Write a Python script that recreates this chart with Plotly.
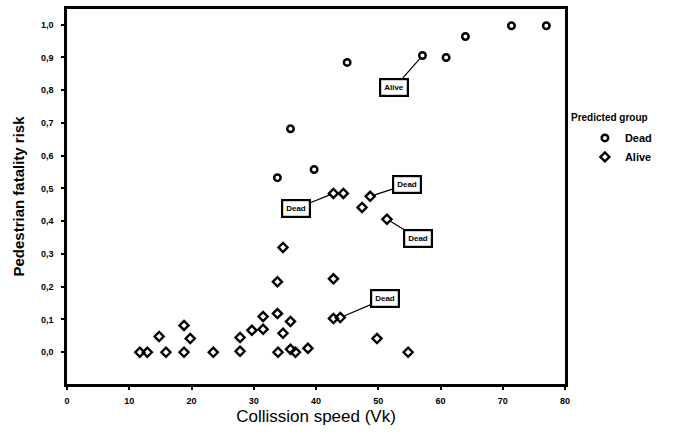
import plotly.graph_objects as go

# Predicted group: Dead
dead_speed = [33.8, 39.7, 35.9, 45.0, 57.1, 60.9, 64.0, 71.4, 77.0]
dead_risk = [0.533, 0.558, 0.682, 0.885, 0.906, 0.900, 0.964, 0.997, 0.997]

# Predicted group: Alive
alive_speed = [11.7, 12.9, 15.9, 14.8, 18.8, 18.8, 19.8, 23.5, 27.8, 27.8,
               29.7, 31.5, 31.5, 33.8, 34.7, 33.8, 35.9, 34.7, 33.9, 35.9,
               36.7, 38.7, 42.8, 42.8, 43.9, 49.8, 54.8, 51.4, 47.4, 48.7,
               42.8, 44.4]
alive_risk = [0.0, 0.0, 0.0, 0.048, 0.082, 0.0, 0.042, 0.0, 0.003, 0.045,
              0.067, 0.109, 0.070, 0.215, 0.320, 0.118, 0.094, 0.058, 0.0, 0.009,
              0.0, 0.012, 0.224, 0.103, 0.106, 0.042, 0.0, 0.406, 0.442, 0.476,
              0.485, 0.485]

x_ticks = [0, 10, 20, 30, 40, 50, 60, 70, 80]
y_ticks = [0.0, 0.1, 0.2, 0.3, 0.4, 0.5, 0.6, 0.7, 0.8, 0.9, 1.0]
y_tick_text = ["0,0", "0,1", "0,2", "0,3", "0,4", "0,5", "0,6", "0,7", "0,8", "0,9", "1,0"]

# Labelled points: (speed, risk, label, ax, ay)
labels = [
    (57.1, 0.906, "Alive", -28, 32),
    (42.8, 0.485, "Dead", -37, 15),
    (48.7, 0.476, "Dead", 37, -12),
    (51.4, 0.406, "Dead", 31, 19),
    (43.9, 0.106, "Dead", 45, -19),
]

FONT = "Liberation Sans, Arial, sans-serif"

fig = go.Figure()
fig.add_trace(go.Scatter(
    x=dead_speed, y=dead_risk, mode="markers", name="<b>Dead</b>",
    marker=dict(symbol="circle-open", size=6.5, color="black", line=dict(width=2.5, color="black")),
))
fig.add_trace(go.Scatter(
    x=alive_speed, y=alive_risk, mode="markers", name="<b>Alive</b>",
    marker=dict(symbol="diamond-open", size=7, color="black", line=dict(width=2.4, color="black")),
))

for sx, sy, txt, ax, ay in labels:
    fig.add_annotation(
        x=sx, y=sy, text="<b>" + txt + "</b>", showarrow=True, arrowhead=0,
        arrowwidth=1.2, arrowcolor="black", ax=ax, ay=ay,
        font=dict(family=FONT, size=8, color="black"),
        bordercolor="black", borderwidth=2.2, borderpad=3, bgcolor="white",
        standoff=4,
    )

fig.add_annotation(
    xref="paper", yref="paper", x=1.09, y=0.712, xanchor="center", yanchor="middle",
    text="<b>Predicted group</b>", showarrow=False,
    font=dict(family=FONT, size=10, color="black"),
)

fig.update_layout(
    width=686, height=436,
    margin=dict(l=67, r=121, t=6, b=52),
    paper_bgcolor="white", plot_bgcolor="white",
    font=dict(family=FONT, color="black"),
    showlegend=True,
    legend=dict(
        x=1.04, y=0.695, xanchor="left", yanchor="top",
        font=dict(size=11, family=FONT, color="black"),
        tracegroupgap=0, itemwidth=30,
    ),
    xaxis=dict(
        range=[0, 80], tickvals=x_ticks, ticktext=["<b>%d</b>" % v for v in x_ticks],
        showgrid=False, zeroline=False, showline=True, linewidth=2.5, linecolor="black",
        mirror=True, ticks="outside", ticklen=3, tickwidth=2, tickcolor="black",
        ticklabelstandoff=3,
        tickfont=dict(size=9, family=FONT, color="black"),
        title=dict(text="Collission speed (Vk)", font=dict(size=17, family=FONT, color="black"), standoff=6),
    ),
    yaxis=dict(
        range=[-0.097, 1.048], tickvals=y_ticks, ticktext=["<b>%s</b>" % t for t in y_tick_text],
        showgrid=False, zeroline=False, showline=True, linewidth=2.5, linecolor="black",
        mirror=True, ticks="outside", ticklen=3, tickwidth=2, tickcolor="black",
        ticklabelstandoff=6,
        tickfont=dict(size=9, family=FONT, color="black"),
        title=dict(text="<b>Pedestrian fatality risk</b>", font=dict(size=15, family=FONT, color="black"), standoff=13),
    ),
)

fig.write_html("out.html")
